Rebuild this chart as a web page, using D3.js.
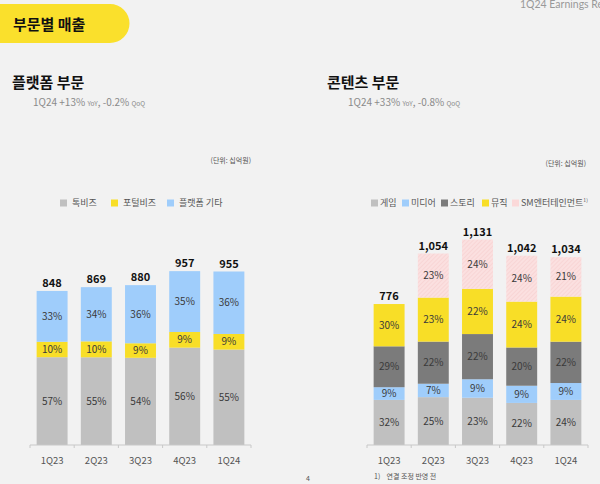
<!DOCTYPE html>
<html><head><meta charset="utf-8">
<script src="https://cdn.jsdelivr.net/npm/d3@7"></script>
<style>
html,body{margin:0;padding:0;background:#f2f2f2;overflow:hidden}
svg{display:block;font-family:"Noto Sans CJK KR","Noto Sans",sans-serif}
</style></head><body>
<svg id="c" width="600" height="484"></svg>
<script>
const quarters = ["1Q23","2Q23","3Q23","4Q23","1Q24"];
// Platform segment
const platformTotals = [848, 869, 880, 957, 955];
const platformSeries = ["톡비즈","포털비즈","플랫폼 기타"];
const talkBiz = [57, 55, 54, 56, 55];
const portalBiz = [10, 10, 9, 9, 9];
const platformEtc = [33, 34, 36, 35, 36];
// Content segment
const contentTotals = [776, 1054, 1131, 1042, 1034];
const contentSeries = ["게임","미디어","스토리","뮤직","SM엔터테인먼트"];
const game = [32, 25, 23, 22, 24];
const media = [9, 7, 9, 9, 9];
const story = [29, 22, 22, 20, 22];
const music = [30, 23, 22, 24, 24];
const smEnt = [0, 23, 24, 24, 21];

const C = {gray:"#c0c0c0", yellow:"#f8de27", blue:"#9fcdfb", dark:"#7b7b7b", pink:"url(#hatch)"};

const svg = d3.select("#c");
const defs = svg.append("defs");
const pat = defs.append("pattern").attr("id","hatch").attr("patternUnits","userSpaceOnUse")
  .attr("width",3).attr("height",3).attr("patternTransform","rotate(45)");
pat.append("rect").attr("width",3).attr("height",3).attr("fill","#fbe0e0");
pat.append("line").attr("x1",0).attr("y1",0).attr("x2",0).attr("y2",3).attr("stroke","#f5caca").attr("stroke-width",1);

// Header pill
svg.append("path").attr("d","M0,4 H110 A19.5,19.5 0 0 1 110,43 H0 Z").attr("fill","#fae02c");
svg.append("text").attr("x",13).attr("y",30).attr("font-size",15).attr("font-weight",700).attr("fill","#111").text("부문별 매출");
svg.append("text").attr("x",520).attr("y",8).attr("font-size",10.5).attr("fill","#999").attr("font-family","Lato, 'Noto Sans', sans-serif").text("1Q24 Earnings Release");

function titleBlock(x, title, sub1, sub2) {
  svg.append("text").attr("x",x).attr("y",88).attr("font-size",15).attr("font-weight",700).attr("fill","#111").text(title);
  const t = svg.append("text").attr("x",x+21).attr("y",106).attr("font-size",10).attr("fill","#8a8a8a");
  t.append("tspan").text("1Q24 " + sub1 + " ");
  t.append("tspan").attr("font-size",6.5).text("YoY");
  t.append("tspan").text(", " + sub2 + " ");
  t.append("tspan").attr("font-size",6.5).text("QoQ");
}
titleBlock(12, "플랫폼 부문", "+13%", "-0.2%");
titleBlock(327, "콘텐츠 부문", "+33%", "-0.8%");

svg.append("text").attr("x",251).attr("y",163).attr("text-anchor","end").attr("font-size",7).attr("fill","#555").text("(단위: 십억원)");
svg.append("text").attr("x",586).attr("y",166).attr("text-anchor","end").attr("font-size",7).attr("fill","#555").text("(단위: 십억원)");

const y = d3.scaleLinear().domain([0,1200]).range([445, 445-218]);

function legend(items, y0, fs) {
  items.forEach(it => {
    svg.append("rect").attr("x",it.x).attr("y",y0-6.5).attr("width",7).attr("height",7).attr("fill",it.c);
    const t = svg.append("text").attr("x",it.x+ (it.gap||12)).attr("y",y0).attr("font-size",fs).attr("fill","#555").text(it.t);
    if (it.sup) t.append("tspan").attr("dy",-4).attr("font-size",5).text(it.sup);
  });
}
legend([{x:60,c:C.gray,t:platformSeries[0]},{x:111,c:C.yellow,t:platformSeries[1]},{x:167,c:C.blue,t:platformSeries[2]}], 206, 9);
legend([{x:371,c:C.gray,t:contentSeries[0],gap:9},{x:402,c:C.blue,t:contentSeries[1],gap:9},{x:441,c:C.dark,t:contentSeries[2],gap:9},
        {x:482,c:C.yellow,t:contentSeries[3],gap:9},{x:512,c:"#fbd9d9",t:contentSeries[4],gap:9,sup:"1)"}], 206, 9);

function chart(x0, x1, totals, series, colors) {
  const x = d3.scaleBand().domain(quarters).range([x0,x1]).paddingInner(0.3).paddingOuter(0.15);
  const rows = quarters.map((q,i) => {
    const r = {q, total: totals[i]};
    const s = d3.sum(series, a => a[i]);
    series.forEach((a,k) => { r["s"+k] = totals[i]*a[i]/s; r["p"+k] = a[i]; });
    return r;
  });
  const keys = series.map((_,k)=>"s"+k);
  const stacked = d3.stack().keys(keys)(rows);
  const g = svg.append("g");
  stacked.forEach((layer,k) => {
    g.selectAll(null).data(layer).join("rect")
      .attr("x", d => x(d.data.q)).attr("width", x.bandwidth())
      .attr("y", d => y(d[1])).attr("height", d => y(d[0]) - y(d[1]))
      .attr("fill", colors[k]);
    g.selectAll(null).data(layer.filter(d => d.data["p"+k] > 0)).join("text")
      .attr("x", d => x(d.data.q) + x.bandwidth()/2)
      .attr("y", d => (y(d[0]) + y(d[1]))/2 + 3.5)
      .attr("text-anchor","middle").attr("font-size",10).attr("fill","#3a3a3a")
      .text(d => d.data["p"+k] + "%");
  });
  g.selectAll(null).data(rows).join("text")
    .attr("x", d => x(d.q) + x.bandwidth()/2).attr("y", d => y(d.total) - 4)
    .attr("text-anchor","middle").attr("font-size",11).attr("font-weight",700).attr("fill","#111")
    .text(d => d3.format(",")(d.total));
  // axis
  const ax = svg.append("g").attr("transform","translate(0,445)");
  ax.append("line").attr("x1",x0).attr("x2",x1).attr("stroke","#c8c8c8");
  const ticks = quarters.map(q => x(q) - x.step()*0.15).concat([x1]);
  ax.selectAll(null).data(ticks).join("line").attr("x1",d=>d).attr("x2",d=>d).attr("y1",0).attr("y2",3).attr("stroke","#c8c8c8");
  ax.selectAll(null).data(quarters).join("text")
    .attr("x", q => x(q) + x.bandwidth()/2).attr("y",19).attr("text-anchor","middle")
    .attr("font-size",9.5).attr("fill","#555").text(q => q);
}
chart(30, 251, platformTotals, [talkBiz, portalBiz, platformEtc], [C.gray, C.yellow, C.blue]);
chart(367, 588, contentTotals, [game, media, story, music, smEnt], [C.gray, C.blue, C.dark, C.yellow, C.pink]);

svg.append("text").attr("x",374).attr("y",479).attr("font-size",7).attr("fill","#555").attr("xml:space","preserve").text("1)    연결 조정 반영 전");
svg.append("text").attr("x",306).attr("y",481).attr("font-size",7).attr("fill","#555").text("4");
</script>
</body></html>
